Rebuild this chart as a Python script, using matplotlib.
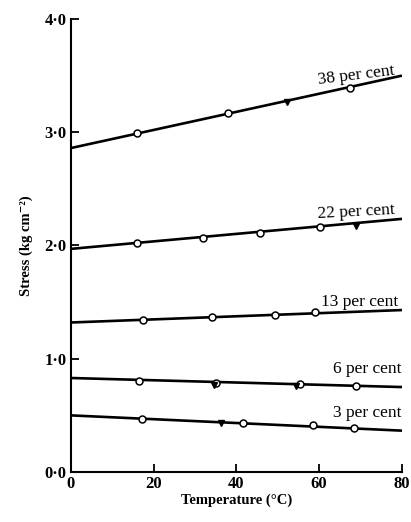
import matplotlib
matplotlib.use("Agg")
import matplotlib.pyplot as plt

# ----------------------------
# Dados
# ----------------------------
labels = ["38 per cent", "22 per cent", "13 per cent", "6 per cent", "3 per cent"]

# linhas ajustadas: valor em 0 °C e em 80 °C
line_x = [0, 80]
line_start = [2.86, 1.97, 1.32, 0.83, 0.50]
line_end = [3.50, 2.235, 1.43, 0.75, 0.365]

# pontos abertos
open_x = [
    [16, 38, 67.5],
    [16, 32, 45.6, 60.2],
    [17.5, 34.2, 49.3, 59.1],
    [16.5, 35.2, 55.3, 68.9],
    [17.1, 41.6, 58.6, 68.3],
]
open_y = [
    [2.99, 3.17, 3.39],
    [2.02, 2.063, 2.107, 2.165],
    [1.342, 1.37, 1.39, 1.41],
    [0.805, 0.79, 0.776, 0.76],
    [0.466, 0.43, 0.416, 0.387],
]

# pontos cheios
filled_x = [[52.2], [68.9], [], [34.6, 54.5], [36.4]]
filled_y = [[3.27], [2.168], [], [0.77, 0.755], [0.43]]

# posição dos rótulos (centro)
label_x = [69.0, 69.0, 69.7, 71.5, 71.5]
label_y = [3.50, 2.30, 1.50, 0.91, 0.52]
label_rot = [7, 3, 0, 0, 0]

xticks = [0, 20, 40, 60, 80]
yticks = [0, 1, 2, 3, 4]
ytick_labels = ["0·0", "1·0", "2·0", "3·0", "4·0"]

# ----------------------------
# Figura
# ----------------------------
plt.rcParams["font.family"] = ["Liberation Serif", "DejaVu Serif"]

fig = plt.figure(figsize=(4.11, 5.22), dpi=100)
ax = fig.add_axes([0.172, 0.0958, 0.806, 0.8678])

for i in range(len(labels)):
    ax.plot(line_x, [line_start[i], line_end[i]], color="black", lw=1.9,
            solid_capstyle="butt", zorder=2)
    ax.plot(open_x[i], open_y[i], linestyle="none", marker="o", ms=5,
            mfc="white", mec="black", mew=1.1, zorder=3)
    if filled_x[i]:
        ax.plot(filled_x[i], filled_y[i], linestyle="none", marker="v", ms=5,
                color="black", zorder=3)
    ax.text(label_x[i], label_y[i], labels[i], ha="center", va="center",
            fontsize=12.5, rotation=label_rot[i])

ax.set_xlim(0, 80)
ax.set_ylim(0, 4)
ax.set_xticks(xticks)
ax.set_xticklabels([str(v) for v in xticks], fontsize=12, fontweight="bold")
ax.set_yticks(yticks)
ax.set_yticklabels(ytick_labels, fontsize=12, fontweight="bold")
ax.tick_params(direction="in", length=6, width=1.3, pad=3)

for s in ["top", "right"]:
    ax.spines[s].set_visible(False)
for s in ["left", "bottom"]:
    ax.spines[s].set_linewidth(1.5)

ax.set_xlabel("Temperature (°C)", fontsize=10.5, fontweight="bold", labelpad=1)
ax.set_ylabel("Stress (kg cm⁻²)", fontsize=10.5, fontweight="bold", labelpad=8)

fig.savefig("out.png", dpi=100)
